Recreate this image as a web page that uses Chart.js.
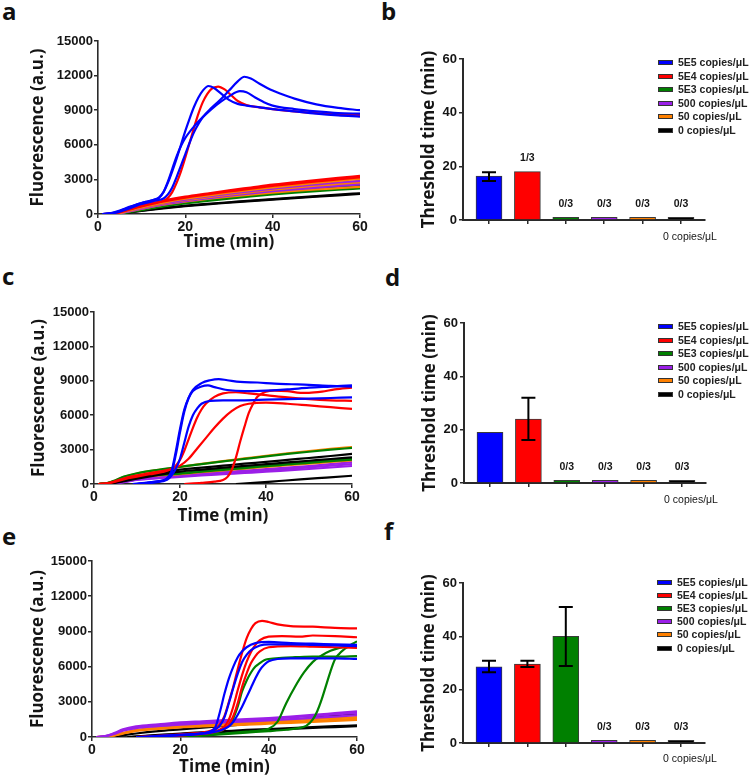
<!DOCTYPE html>
<html><head><meta charset="utf-8">
<script src="https://cdn.jsdelivr.net/npm/chart.js@4.4.1/dist/chart.umd.min.js"></script>
<style>
html,body{margin:0;padding:0;background:#fff;}
#root{position:relative;width:753px;height:779px;overflow:hidden;background:#fff;}
canvas{position:absolute;}
.lbl{position:absolute;font-family:"Open Sans";font-weight:700;font-size:24px;line-height:24px;color:#111;}
.leg{position:absolute;left:658px;width:95px;}
.row{position:absolute;left:0;height:10px;white-space:nowrap;}
.box{position:absolute;left:0;top:3px;width:13px;height:3px;border:1px solid #333;}
.txt{position:absolute;left:20px;top:0;font-family:"Liberation Sans";font-weight:700;font-size:10.5px;line-height:10px;color:#222;}
</style></head>
<body><div id="root">
<div class="lbl" style="left:2px;top:-1px">a</div>
<div class="lbl" style="left:381px;top:-1px">b</div>
<div class="lbl" style="left:2px;top:264px">c</div>
<div class="lbl" style="left:385px;top:265px">d</div>
<div class="lbl" style="left:2px;top:524px">e</div>
<div class="lbl" style="left:384px;top:519px">f</div>
<canvas id="ca" width="375" height="230" style="left:0;top:25px"></canvas>
<canvas id="cc" width="367" height="234" style="left:0;top:296px"></canvas>
<canvas id="ce" width="372" height="234" style="left:0;top:545px"></canvas>
<canvas id="cb" width="373" height="220" style="left:380px;top:40px"></canvas>
<canvas id="cd" width="372" height="219" style="left:381px;top:304px"></canvas>
<canvas id="cf" width="373" height="215" style="left:380px;top:564px"></canvas>
<div class="leg" id="legb" style="top:62px"></div>
<div class="leg" id="legd" style="top:326px"></div>
<div class="leg" id="legf" style="top:582px;left:657px"></div>
</div>
<script>
// ---------- categories ----------
const categories = ['5E5 copies/\u03bcL','5E4 copies/\u03bcL','5E3 copies/\u03bcL','500 copies/\u03bcL','50 copies/\u03bcL','0 copies/\u03bcL'];
const xTickLabels = ['', '', '', '', '', '0 copies/\u03bcL'];
const timeTicks = [0, 20, 40, 60];
const fluorTicks = [0, 3000, 6000, 9000, 12000, 15000];
const thresholdTicks = [0, 20, 40, 60];

// ---------- panel a curves: [time, fluorescence] ----------
const aBlue1 = [[1,0],[3,50],[5,250],[7,550],[9,850],[11,1050],[13,1250],[14,1450],[15,1900],[16,2700],[17,3700],[18,4800],[19,6000],[20,7200],[21,8300],[22,9300],[23,10100],[24,10700],[25.3,11100],[26.5,10950],[28,10500],[30,9900],[32,9550],[34,9400],[37,9250],[40,9100],[45,8900],[50,8700],[55,8550],[60,8450]];
const aBlue2 = [[1,0],[3,50],[5,200],[7,450],[9,750],[11,950],[13,1150],[15,1350],[16,1700],[17,2300],[18,3200],[19,4200],[20,5200],[21,6200],[22,7100],[23,7800],[24,8400],[26,9200],[28,9900],[30,10700],[32,11500],[33.5,11900],[35,11750],[37,11300],[40,10700],[42,10400],[45,10000],[50,9500],[55,9200],[60,9000]];
const aBlue3 = [[1,0],[3,80],[5,300],[7,600],[9,850],[11,1050],[13,1250],[14,1400],[15,1900],[16,2800],[17,3900],[18,5000],[19,5900],[20,6600],[22,7600],[24,8400],[26,9100],[28,9700],[30,10200],[32.5,10650],[34,10550],[36,10100],[38,9700],[40,9400],[45,9100],[50,8900],[55,8750],[60,8700]];
const aRedHigh = [[1,0],[3,50],[5,200],[7,450],[9,650],[11,850],[13,1000],[15,1150],[16,1400],[17,1900],[18,2700],[19,3700],[20,4900],[21,6200],[22,7500],[23,8700],[24,9700],[25,10400],[26,10850],[27.5,11050],[29,10800],[30.5,10300],[32,9800],[34,9450],[37,9250],[40,9100],[45,8900],[50,8750],[55,8650],[60,8600]];
const aRedLow1 = [[2,0],[4,80],[6,280],[8,500],[10,700],[15,1150],[20,1500],[25,1780],[30,2050],[35,2300],[40,2550],[45,2750],[50,2950],[55,3130],[60,3300]];
const aRedLow2 = [[2,0],[4,60],[6,250],[8,460],[10,650],[15,1080],[20,1420],[25,1700],[30,1950],[35,2200],[40,2430],[45,2640],[50,2830],[55,3000],[60,3170]];
const aOrange1 = [[3,0],[5,100],[7,300],[10,580],[15,980],[20,1320],[25,1600],[30,1850],[35,2080],[40,2300],[45,2500],[50,2700],[55,2880],[60,3050]];
const aOrange2 = [[3,0],[5,80],[7,220],[10,450],[15,800],[20,1080],[25,1300],[30,1500],[35,1680],[40,1850],[45,2000],[50,2130],[55,2240],[60,2350]];
const aOrange3 = [[3,0],[5,90],[7,260],[10,520],[15,900],[20,1200],[25,1450],[30,1680],[35,1900],[40,2100],[45,2280],[50,2450],[55,2600],[60,2750]];
const aPurple1 = [[3,0],[5,90],[7,270],[10,540],[15,930],[20,1250],[25,1520],[30,1760],[35,1990],[40,2200],[45,2400],[50,2570],[55,2730],[60,2880]];
const aPurple2 = [[3,0],[5,80],[7,240],[10,500],[15,870],[20,1170],[25,1420],[30,1650],[35,1860],[40,2060],[45,2240],[50,2400],[55,2550],[60,2680]];
const aPurple3 = [[3,0],[5,70],[7,220],[10,470],[15,830],[20,1120],[25,1360],[30,1580],[35,1780],[40,1970],[45,2140],[50,2290],[55,2430],[60,2560]];
const aGreen1 = [[3,0],[5,60],[7,200],[10,430],[15,790],[20,1070],[25,1300],[30,1510],[35,1710],[40,1890],[45,2060],[50,2210],[55,2350],[60,2470]];
const aGreen2 = [[3,0],[5,50],[7,180],[10,390],[15,730],[20,1000],[25,1220],[30,1420],[35,1610],[40,1780],[45,1940],[50,2090],[55,2220],[60,2340]];
const aGreen3 = [[4,0],[6,80],[8,220],[10,340],[15,660],[20,920],[25,1140],[30,1340],[35,1520],[40,1690],[45,1850],[50,1990],[55,2110],[60,2220]];
const aBlack1 = [[4,0],[7,150],[10,300],[15,520],[20,720],[25,880],[30,1020],[35,1160],[40,1290],[45,1420],[50,1550],[55,1680],[60,1800]];
const aBlack2 = [[4,0],[7,130],[10,270],[15,490],[20,680],[25,840],[30,980],[35,1120],[40,1250],[45,1380],[50,1500],[55,1620],[60,1740]];

// ---------- panel c curves ----------
const cBlue1 = [[9,0],[12,100],[15,250],[17,450],[18,900],[19,2500],[20,4500],[21,6300],[22,7500],[23,8200],[25,8800],[27,9050],[29,9150],[31,9050],[34,8900],[38,8850],[42,8750],[46,8700],[50,8650],[55,8550],[60,8500]];
const cBlue2 = [[10,0],[13,150],[16,300],[17,500],[18,1100],[19,2800],[20,4800],[21,6500],[22,7500],[23,8100],[25,8500],[26.5,8600],[28,8450],[31,8200],[35,8100],[40,8150],[45,8250],[50,8400],[55,8500],[60,8600]];
const cBlue3 = [[10,0],[13,100],[16,250],[17.5,500],[19,1300],[20,2200],[21,3600],[22,5000],[23,6000],[24,6600],[25,7000],[27,7250],[30,7300],[35,7300],[40,7350],[45,7400],[50,7450],[55,7500],[60,7550]];
const cRed1 = [[1,0],[3,50],[5,200],[8,500],[10,650],[13,850],[16,1050],[18,1300],[19,1600],[20,2100],[21,2900],[22,3900],[23,4900],[24,5800],[25,6500],[26,7000],[28,7600],[30,7900],[33,8000],[36,7900],[40,7750],[45,7550],[50,7400],[55,7300],[60,7250]];
const cRed2 = [[1,0],[3,50],[5,250],[8,600],[10,750],[13,950],[16,1150],[18,1300],[20,1600],[22,2200],[24,3100],[26,4000],[28,4900],[30,5700],[32,6350],[34,6800],[36,7000],[40,7100],[45,7000],[50,6850],[55,6700],[60,6550]];
const cRed3 = [[21,0],[25,100],[28,200],[30,350],[31,600],[32,1200],[33,2300],[34,3700],[35,5000],[36,6200],[37,7000],[38,7600],[40,8050],[42,8150],[45,8100],[48,7950],[50,7950],[53,8050],[56,8250],[60,8400]];
const cOrange1 = [[1,0],[3,60],[5,300],[7,620],[10,920],[15,1230],[20,1500],[25,1760],[30,2000],[35,2230],[40,2460],[45,2680],[50,2880],[55,3060],[60,3220]];
const cOrange2 = [[1,0],[3,50],[5,240],[7,480],[10,650],[15,790],[20,920],[25,1100],[30,1270],[35,1430],[40,1590],[45,1750],[50,1900],[55,2050],[60,2200]];
const cOrange3 = [[1,0],[3,50],[5,220],[7,450],[10,610],[15,740],[20,860],[25,1030],[30,1190],[35,1340],[40,1490],[45,1640],[50,1780],[55,1920],[60,2060]];
const cGreen1 = [[1,0],[3,70],[5,330],[7,650],[10,940],[15,1240],[20,1490],[25,1740],[30,1970],[35,2190],[40,2410],[45,2620],[50,2810],[55,2990],[60,3150]];
const cGreen2 = [[1,0],[3,60],[5,280],[7,550],[10,720],[15,850],[20,950],[25,1130],[30,1300],[35,1470],[40,1640],[45,1800],[50,1950],[55,2100],[60,2250]];
const cGreen3 = [[1,0],[3,50],[5,250],[7,500],[10,670],[15,800],[20,900],[25,1070],[30,1230],[35,1390],[40,1550],[45,1700],[50,1850],[55,1990],[60,2130]];
const cPurple1 = [[1,0],[4,50],[7,250],[10,430],[15,600],[20,760],[25,900],[30,1040],[35,1170],[40,1290],[45,1430],[50,1570],[55,1730],[60,1900]];
const cPurple2 = [[2,0],[5,60],[8,230],[10,350],[15,500],[20,620],[25,740],[30,850],[35,960],[40,1070],[45,1190],[50,1310],[55,1440],[60,1570]];
const cPurple3 = [[2,0],[5,60],[8,240],[10,390],[15,550],[20,690],[25,820],[30,950],[35,1070],[40,1190],[45,1320],[50,1450],[55,1590],[60,1740]];
const cBlack1 = [[1,0],[4,60],[7,300],[10,550],[15,920],[20,1250],[25,1430],[30,1600],[35,1770],[40,1930],[45,2100],[50,2270],[55,2440],[60,2620]];
const cBlack2 = [[1,0],[4,50],[7,250],[10,470],[15,800],[20,1080],[25,1260],[30,1420],[35,1580],[40,1730],[45,1880],[50,2030],[55,2180],[60,2320]];
const cBlack3 = [[33,0],[38,120],[43,260],[48,400],[54,560],[60,720]];

// ---------- panel e curves ----------
const eBlue1 = [[10,0],[14,60],[18,150],[22,230],[25,320],[27,500],[28,900],[29,2200],[30,3700],[31,5000],[32,6000],[33,6800],[34,7300],[35,7650],[37,8000],[40,8100],[45,8000],[50,7950],[55,7900],[60,7850]];
const eBlue2 = [[11,0],[15,60],[19,150],[23,250],[26,380],[28,650],[29,1000],[30,1700],[31,2900],[32,4200],[33,5400],[34,6400],[35,7000],[36,7400],[38,7800],[40,7900],[45,7900],[50,7850],[55,7800],[60,7750]];
const eBlue3 = [[12,0],[16,60],[20,150],[24,250],[27,380],[29,550],[31,900],[32,1300],[33,1900],[34,2600],[35,3400],[36,4200],[37,5000],[38,5700],[39,6150],[40,6450],[42,6650],[45,6700],[50,6700],[55,6700],[60,6650]];
const eRed1 = [[10,0],[14,80],[18,180],[22,280],[25,380],[27,550],[28,750],[29,1100],[30,1800],[31,3000],[32,4300],[33,5800],[34,7200],[35,8400],[36,9200],[37,9700],[38.5,9900],[40,9800],[42,9600],[45,9450],[50,9400],[55,9300],[60,9250]];
const eRed2 = [[12,0],[16,80],[20,160],[24,260],[27,400],[29,650],[30,900],[31,1500],[32,2600],[33,4000],[34,5300],[35,6400],[36,7250],[37,7850],[38,8250],[40,8550],[43,8600],[47,8550],[50,8650],[55,8600],[60,8500]];
const eRed3 = [[14,0],[18,80],[22,170],[26,300],[28,450],[30,700],[31,1050],[32,1800],[33,2900],[34,4300],[35,5400],[36,6300],[37,6900],[38,7300],[40,7650],[45,7750],[50,7700],[55,7650],[60,7600]];
const eGreen1 = [[20,0],[24,150],[27,300],[29,500],[30,700],[31,1000],[32,1600],[33,2600],[34,3900],[35,4800],[36,5500],[37,6000],[38,6300],[39,6550],[40,6650],[43,6750],[46,6800],[50,6850],[55,6850],[60,6900]];
const eGreen2 = [[20,0],[25,150],[30,300],[35,450],[38,550],[40,700],[42,1300],[44,2900],[46,4300],[48,5500],[50,6400],[52,6950],[54,7350],[56,7600],[58,7750],[60,7850]];
const eGreen3 = [[20,0],[25,120],[30,250],[35,380],[40,500],[44,620],[47,780],[48.5,950],[50,1500],[51,2200],[52,3200],[53,4400],[54,5600],[55,6600],[56,7100],[57,7450],[58,7700],[59,7950],[60,8150]];
const ePurple1 = [[1,0],[3,80],[5,330],[7,650],[10,900],[15,1080],[20,1250],[25,1340],[30,1430],[35,1520],[40,1620],[45,1740],[50,1880],[55,2030],[60,2180]];
const ePurple2 = [[1,0],[3,70],[5,300],[7,600],[10,830],[15,1000],[20,1150],[25,1250],[30,1350],[35,1450],[40,1550],[45,1670],[50,1790],[55,1920],[60,2050]];
const ePurple3 = [[1,0],[3,60],[5,260],[7,540],[10,760],[15,920],[20,1060],[25,1150],[30,1240],[35,1330],[40,1420],[45,1520],[50,1630],[55,1740],[60,1860]];
const eOrange1 = [[1,0],[4,80],[7,350],[10,600],[15,800],[20,950],[25,1050],[30,1150],[35,1240],[40,1330],[45,1420],[50,1520],[55,1610],[60,1700]];
const eOrange2 = [[1,0],[4,70],[7,320],[10,550],[15,740],[20,880],[25,970],[30,1060],[35,1140],[40,1220],[45,1300],[50,1380],[55,1460],[60,1550]];
const eOrange3 = [[1,0],[4,60],[7,290],[10,510],[15,690],[20,820],[25,900],[30,980],[35,1050],[40,1130],[45,1210],[50,1290],[55,1370],[60,1450]];
const eBlack1 = [[2,0],[5,60],[8,200],[10,300],[15,500],[20,650],[25,800],[30,950],[35,1100],[40,1280],[45,1450],[50,1630],[55,1820],[60,2000]];
const eBlack2 = [[8,0],[12,100],[16,200],[20,300],[25,400],[30,500],[35,600],[40,680],[45,760],[50,840],[55,920],[60,1000]];
const eBlack3 = [[9,0],[13,90],[17,180],[21,270],[25,350],[30,440],[35,530],[40,610],[45,690],[50,770],[55,850],[60,930]];

// ---------- bar panels: threshold time (min) ----------
const bValues = [16.4, 18.0, 1, 1, 1, 1];
const bErrLow = [14.5, null, null, null, null, null];
const bErrHigh = [17.8, null, null, null, null, null];
const bTags = ['', '1/3', '0/3', '0/3', '0/3', '0/3'];
const dValues = [19.0, 24.0, 1, 1, 1, 1];
const dErrLow = [null, 16.1, null, null, null, null];
const dErrHigh = [null, 32.0, null, null, null, null];
const dTags = ['', '', '0/3', '0/3', '0/3', '0/3'];
const fValues = [28.6, 29.6, 40.0, 1, 1, 1];
const fErrLow = [26.5, 28.5, 28.9, null, null, null];
const fErrHigh = [30.8, 30.8, 51.0, null, null, null];
const fTags = ['', '', '', '0/3', '0/3', '0/3'];

// ---------- styling ----------
const BLUE = '#0000ff', RED = '#ff0000', GREEN = '#008000', PURPLE = '#9b1fe8', ORANGE = '#ff8000', BLACK = '#000000';
const catColors = [BLUE, RED, GREEN, PURPLE, ORANGE, BLACK];
const AX = '#2a2a2a';
const TXT = '#151515';

// draw order: first = bottom, last = top
const panelA = [
  [aBlack2, BLACK], [aBlack1, BLACK], [aGreen3, GREEN], [aGreen2, GREEN], [aGreen1, GREEN],
  [aOrange2, ORANGE], [aPurple3, PURPLE], [aPurple2, PURPLE], [aOrange3, ORANGE], [aPurple1, PURPLE], [aOrange1, ORANGE],
  [aRedLow2, RED], [aRedLow1, RED], [aRedHigh, RED], [aBlue3, BLUE], [aBlue1, BLUE], [aBlue2, BLUE]
];
const panelC = [
  [cBlack3, BLACK], [cPurple2, PURPLE], [cPurple3, PURPLE], [cPurple1, PURPLE], [cOrange3, ORANGE], [cOrange2, ORANGE],
  [cGreen3, GREEN], [cGreen2, GREEN], [cBlack2, BLACK], [cBlack1, BLACK], [cOrange1, ORANGE], [cGreen1, GREEN],
  [cRed2, RED], [cRed1, RED], [cRed3, RED], [cBlue3, BLUE], [cBlue2, BLUE], [cBlue1, BLUE]
];
const panelE = [
  [eBlack3, BLACK], [eBlack2, BLACK], [eBlack1, BLACK], [eOrange3, ORANGE], [eOrange2, ORANGE], [eOrange1, ORANGE],
  [ePurple3, PURPLE], [ePurple2, PURPLE], [ePurple1, PURPLE],
  [eGreen3, GREEN], [eGreen2, GREEN], [eGreen1, GREEN],
  [eRed3, RED], [eRed2, RED], [eRed1, RED], [eBlue3, BLUE], [eBlue2, BLUE], [eBlue1, BLUE]
];

function lineChart(id, curves, g) {
  const datasets = curves.slice().reverse().map(([pts, col]) => ({
    data: pts.map(p => ({x: p[0], y: p[1]})),
    borderColor: col, backgroundColor: col, borderWidth: 2.2, pointRadius: 0,
    tension: 0.4, cubicInterpolationMode: 'monotone', fill: false
  }));
  new Chart(document.getElementById(id), {
    type: 'line',
    data: { datasets },
    options: {
      responsive: false, animation: false, events: [],
      layout: { padding: { top: g.pt, right: g.pr, left: 0, bottom: 0 } },
      plugins: { legend: { display: false }, tooltip: { enabled: false } },
      scales: {
        x: {
          type: 'linear', min: 0, max: 60,
          afterBuildTicks: s => { s.ticks = timeTicks.map(v => ({ value: v })); },
          afterFit: s => { s.height = g.xh; },
          grid: { display: true, drawOnChartArea: false, drawTicks: true, tickLength: 4, color: AX, lineWidth: 1.5 },
          border: { display: true, color: AX, width: 1.6 },
          ticks: { font: { family: 'Liberation Sans', weight: 'bold', size: 14 }, color: TXT, padding: 1, maxRotation: 0, callback: v => String(v) },
          title: { display: true, text: 'Time (min)', color: TXT, font: { family: 'Open Sans', weight: 'bold', size: 17 }, padding: { top: 0, bottom: g.xtp } }
        },
        y: {
          min: 0, max: 15000,
          afterBuildTicks: s => { s.ticks = fluorTicks.map(v => ({ value: v })); },
          afterFit: s => { s.width = g.yw; },
          grid: { display: true, drawOnChartArea: false, drawTicks: true, tickLength: 4, color: AX, lineWidth: 1.5 },
          border: { display: true, color: AX, width: 1.6 },
          ticks: { font: { family: 'Liberation Sans', weight: 'bold', size: 13 }, color: TXT, padding: 1, callback: v => String(v) },
          title: { display: true, text: 'Fluorescence (a.u.)', color: TXT, font: { family: 'Open Sans', weight: 'bold', size: 17 }, padding: { top: g.ytp, bottom: 0 } }
        }
      }
    }
  });
}

const barAnnot = {
  id: 'barAnnot',
  afterDatasetsDraw(chart, args, o) {
    const ctx = chart.ctx, xs = chart.scales.x, ys = chart.scales.y;
    ctx.save();
    ctx.strokeStyle = '#000'; ctx.lineWidth = 2;
    o.lo.forEach((l, i) => {
      if (l == null) return;
      const x = xs.getPixelForValue(i), y1 = ys.getPixelForValue(l), y2 = ys.getPixelForValue(o.hi[i]);
      ctx.beginPath();
      ctx.moveTo(x, y1); ctx.lineTo(x, y2);
      ctx.moveTo(x - 7, y1); ctx.lineTo(x + 7, y1);
      ctx.moveTo(x - 7, y2); ctx.lineTo(x + 7, y2);
      ctx.stroke();
    });
    ctx.fillStyle = TXT; ctx.font = 'bold 10.5px "Liberation Sans"';
    ctx.textAlign = 'center'; ctx.textBaseline = 'middle';
    o.tags.forEach((t, i) => {
      if (!t) return;
      ctx.fillText(t, xs.getPixelForValue(i), ys.getPixelForValue(o.vals[i]) - 13.5);
    });
    ctx.restore();
  }
};

function barChart(id, vals, lo, hi, tags, g) {
  new Chart(document.getElementById(id), {
    type: 'bar',
    data: {
      datasets: [{
        data: vals.map((v, i) => ({ x: i, y: v })),
        backgroundColor: catColors, borderColor: '#3a3a3a', borderWidth: 1, barThickness: 26
      }]
    },
    plugins: [barAnnot],
    options: {
      responsive: false, animation: false, events: [],
      layout: { padding: { top: g.pt, right: g.pr, left: 0, bottom: 0 } },
      plugins: { legend: { display: false }, tooltip: { enabled: false }, barAnnot: { lo, hi, tags, vals } },
      scales: {
        x: {
          type: 'linear', min: -0.677, max: 5.625, offset: false,
          afterBuildTicks: s => { s.ticks = categories.map((c, i) => ({ value: i })); },
          afterFit: s => { s.height = g.xh; },
          grid: { display: true, offset: false, drawOnChartArea: false, drawTicks: true, tickLength: 4, color: AX, lineWidth: 1.5 },
          border: { display: true, color: AX, width: 2 },
          ticks: { autoSkip: false, maxRotation: 0, labelOffset: 9, padding: g.xlp,
                   callback: (v, i) => xTickLabels[i], font: { family: 'Liberation Sans', size: 10.5 }, color: TXT }
        },
        y: {
          min: 0, max: 60,
          afterBuildTicks: s => { s.ticks = thresholdTicks.map(v => ({ value: v })); },
          afterFit: s => { s.width = g.yw; },
          grid: { display: true, drawOnChartArea: false, drawTicks: true, tickLength: 4, color: AX, lineWidth: 1.5 },
          border: { display: true, color: AX, width: 2 },
          ticks: { font: { family: 'Liberation Sans', weight: 'bold', size: 13 }, color: TXT, padding: 2, callback: v => String(v) },
          title: { display: true, text: 'Threshold time (min)', color: TXT, font: { family: 'Open Sans', weight: 'bold', size: 17 }, padding: { top: g.ytp, bottom: 0 } }
        }
      }
    }
  });
}

function legend(id, spacing) {
  const el = document.getElementById(id);
  categories.forEach((c, i) => {
    const r = document.createElement('div');
    r.className = 'row';
    r.style.top = (i * spacing - 5) + 'px';
    r.innerHTML = '<div class="box" style="background:' + catColors[i] + '"></div><div class="txt">' + c + '</div>';
    el.appendChild(r);
  });
}

lineChart('ca', panelA, { pt: 16, pr: 15, xh: 41, yw: 98, xtp: 2.8, ytp: 27.8 });
lineChart('cc', panelC, { pt: 16, pr: 15, xh: 46, yw: 94, xtp: 3.8, ytp: 28.8 });
lineChart('ce', panelE, { pt: 16, pr: 15, xh: 42, yw: 92, xtp: 1.8, ytp: 27.8 });
barChart('cb', bValues, bErrLow, bErrHigh, bTags, { pt: 19, pr: 48, xh: 40, yw: 83, ytp: 38.8, xlp: 7 });
barChart('cd', dValues, dErrLow, dErrHigh, dTags, { pt: 19, pr: 47, xh: 40, yw: 83, ytp: 38.8, xlp: 7 });
barChart('cf', fValues, fErrLow, fErrHigh, fTags, { pt: 19, pr: 48, xh: 36, yw: 83, ytp: 38.8, xlp: 6 });
legend('legb', 13.6);
legend('legd', 13.6);
legend('legf', 13.1);
</script>
</body></html>
